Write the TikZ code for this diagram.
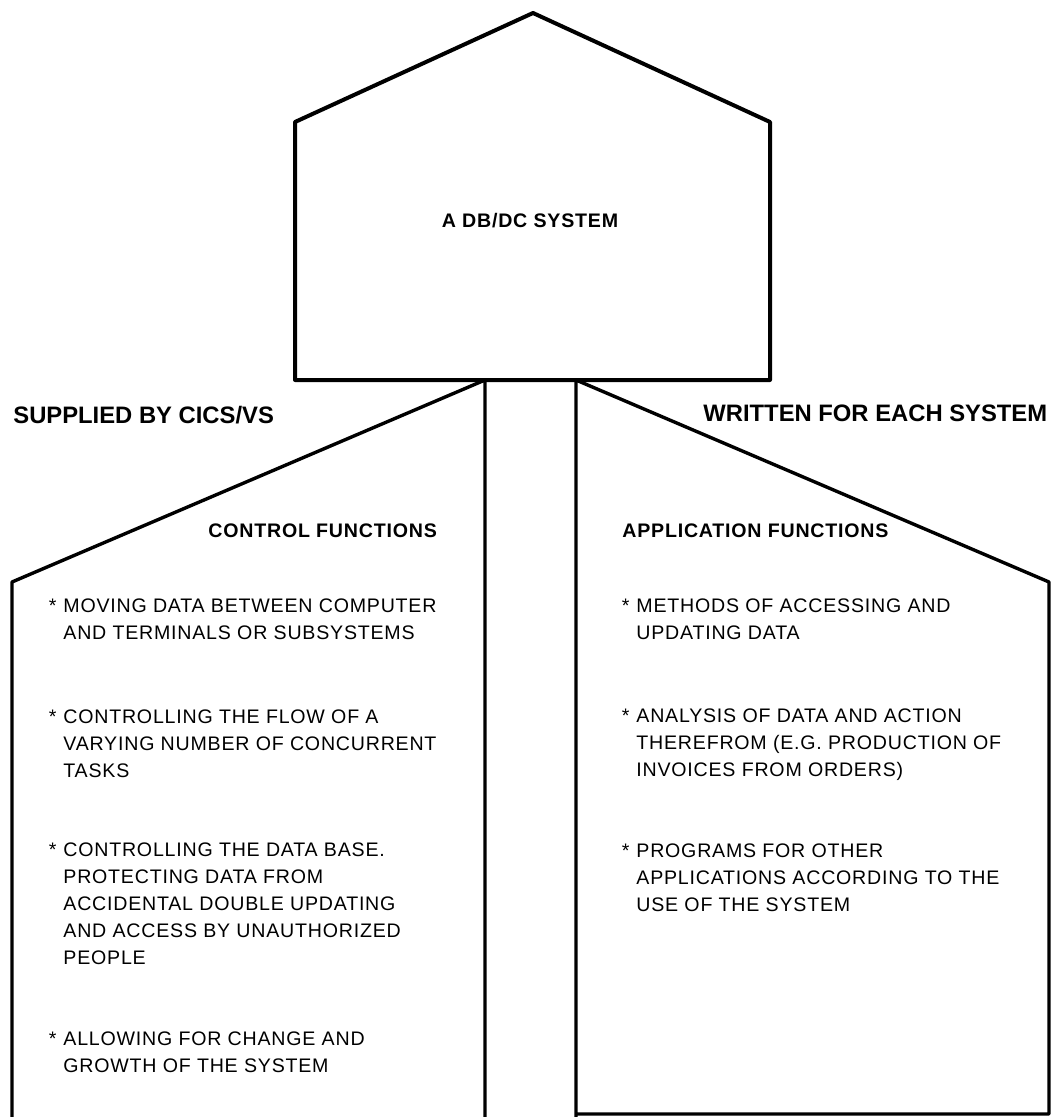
\documentclass[tikz,border=0pt]{standalone}
\usepackage{fontspec}
\setmainfont{Liberation Sans}[LetterSpace=4.0]
\newfontfamily\sidefont{Liberation Sans}
\usetikzlibrary{positioning}

\tikzset{
  item/.style={anchor=base west,inner sep=0pt,align=left,
    font=\fontsize{9.8}{13.5}\selectfont},
  head/.style={anchor=base west,inner sep=0pt,
    font=\bfseries\fontsize{9.8}{12}\selectfont},
  side/.style={anchor=base west,inner sep=0pt,
    font=\sidefont\bfseries\fontsize{11.9}{14}\selectfont}
}
\newcommand{\itemstar}{\llap{*\hspace{3.5pt}}}

\begin{document}
\begin{tikzpicture}[x=0.5pt,y=-0.5pt]
\useasboundingbox (0,0) rectangle (1056,1117);

\coordinate (apex) at (533,13);
\coordinate (hl) at (295,122);
\coordinate (hr) at (770,122);
\coordinate (hbl) at (295,380);
\coordinate (hbr) at (770,380);
\coordinate (ltop) at (485,380);
\coordinate (lcorner) at (12,582);
\coordinate (rtop) at (576,380);
\coordinate (rcorner) at (1049,582);

\draw[line width=2pt,line join=round] (hbl) -- (hl) -- (apex) -- (hr) -- (hbr) -- cycle;
\draw[line width=1.7pt,line join=round] (ltop |- 0,1117) -- (ltop) -- (lcorner) -- (lcorner |- 0,1117);
\draw[line width=1.7pt,line join=round] (rtop |- 0,1117) -- (rtop) -- (rcorner) -- (rcorner |- 0,1114) -- (rtop |- 0,1114);

\node[anchor=base,inner sep=0pt,font=\bfseries\fontsize{9.8}{12}\selectfont] (sys) at (530,228) {A DB/DC SYSTEM};

\node[side] (cics) at (13,423) {SUPPLIED BY CICS/VS};
\node[side] (each) at (703,421) {WRITTEN FOR EACH SYSTEM};

\node[head] (ctrl) at (208,537) {CONTROL FUNCTIONS};
\node[head] (appl) at (622,537) {APPLICATION FUNCTIONS};

% base anchor sits on the last line of each item
\node[item] (c1) at (63,639) {\itemstar MOVING DATA BETWEEN COMPUTER\\AND TERMINALS OR SUBSYSTEMS};
\node[item] (c2) at (63,777) {\itemstar CONTROLLING THE FLOW OF A\\VARYING NUMBER OF CONCURRENT\\TASKS};
\node[item] (c3) at (63,964) {\itemstar CONTROLLING THE DATA BASE.\\PROTECTING DATA FROM\\ACCIDENTAL DOUBLE UPDATING\\AND ACCESS BY UNAUTHORIZED\\PEOPLE};
\node[item] (c4) at (63,1072) {\itemstar ALLOWING FOR CHANGE AND\\GROWTH OF THE SYSTEM};

\node[item] (a1) at (636,639) {\itemstar METHODS OF ACCESSING AND\\UPDATING DATA};
\node[item] (a2) at (636,776) {\itemstar ANALYSIS OF DATA AND ACTION\\THEREFROM (E.G. PRODUCTION OF\\INVOICES FROM ORDERS)};
\node[item] (a3) at (636,911) {\itemstar PROGRAMS FOR OTHER\\APPLICATIONS ACCORDING TO THE\\USE OF THE SYSTEM};
\end{tikzpicture}
\end{document}
